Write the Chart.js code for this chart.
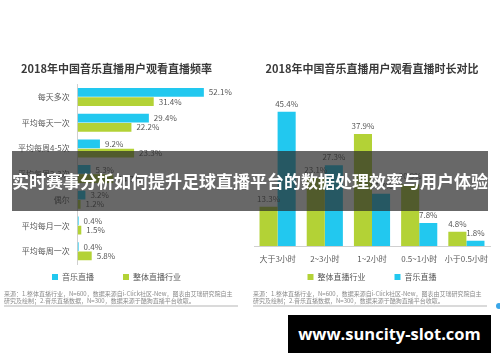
<!DOCTYPE html>
<html>
<head>
  <meta charset="UTF-8">
  <title>音乐直播</title>
  <script src="https://cdn.jsdelivr.net/npm/chart.js"></script>
  <style>
    body {
      margin: 0;
      width: 500px;
      height: 362px;
      background: #fff;
      font-family: 'Noto Sans CJK SC', sans-serif;
      position: relative;
      overflow: hidden;
    }
    .box { position: absolute; }
    .src {
      position: absolute;
      font-size: 6px;
      line-height: 6.5px;
      color: #8a8a8a;
      width: 234px;
      padding-bottom: 1px;
      border-bottom: 2px solid #dadada;
    }
    .banner {
      position: absolute;
      left: 12px; top: 151px;
      width: 476px; height: 60px;
      background: rgba(40, 40, 40, 0.7);
      color: #fff;
      font-weight: bold;
      font-size: 17px;
      line-height: 60px;
      text-align: center;
      white-space: nowrap;
    }
    .mark {
      position: absolute;
      left: 288px; top: 315px;
      width: 203px; height: 38px;
      background: #000;
      color: #fff;
      font-family: 'Open Sans', 'DejaVu Sans', sans-serif;
      font-weight: bold;
      font-size: 16.5px;
      line-height: 38px;
      text-align: center;
    }
    .dot {
      position: absolute;
      left: 496px; top: 303px;
      width: 6px; height: 6px;
      border-radius: 50%;
      background: #3aa6e8;
    }
  </style>
</head>
<body>
  <div class="box" style="left:0;top:50px;width:250px;height:243px;"><canvas id="left"></canvas></div>
  <div class="box" style="left:250px;top:50px;width:250px;height:243px;"><canvas id="right"></canvas></div>

  <div class="src" style="left:4px;top:291px;">来源：1.整体直播行业，N=600，数据来源自i-Click社区-New，图表由艾瑞研究院自主<br>研究及绘制；2.音乐直播数据，N=300，数据来源于酷狗直播平台收取。</div>
  <div class="src" style="left:253px;top:291px;">来源：1.整体直播行业，N=600，数据来源自i-Click社区-New，图表由艾瑞研究院自主<br>研究及绘制；2.音乐直播数据，N=300，数据来源于酷狗直播平台收取。</div>
  <div class="dot"></div>

  <div class="banner">实时赛事分析如何提升足球直播平台的数据处理效率与用户体验</div>
  <div class="mark">www.suncity-slot.com</div>

  <script>
    // 观看直播频率
    const freqLabels = ['每天多次', '平均每天一次', '平均每周4-5次', '平均每周2-3次', '偶尔', '平均每月一次', '平均每周一次'];
    const freqMusic = [52.1, 29.4, 9.2, 5.3, 3.2, 0.4, 0.4];
    const freqAll = [31.4, 22.2, 23.3, 14.7, 1.2, 1.5, 5.8];

    // 观看直播时长
    const timeLabels = ['大于3小时', '2~3小时', '1~2小时', '0.5~1小时', '小于0.5小时'];
    const timeAll = [13.3, 23.1, 37.9, 20.9, 4.8];
    const timeMusic = [45.4, 27.3, 17.7, 7.8, 1.8];

    const blue = '#22c8ef';
    const green = '#b3d236';
    const textGray = '#595959';
    const font = "'Noto Sans CJK SC', sans-serif";

    // draws the % value next to each bar
    const valueLabels = {
      id: 'valueLabels',
      afterDatasetsDraw(chart) {
        const c = chart.ctx;
        const horiz = chart.options.indexAxis === 'y';
        c.save();
        c.font = '8px ' + font;
        c.fillStyle = textGray;
        chart.data.datasets.forEach((ds, i) => {
          chart.getDatasetMeta(i).data.forEach((el, j) => {
            const txt = ds.data[j].toFixed(1) + '%';
            if (horiz) {
              c.textAlign = 'left';
              c.textBaseline = 'middle';
              c.fillText(txt, el.x + 5, el.y);
            } else {
              c.textAlign = 'center';
              c.textBaseline = 'bottom';
              c.fillText(txt, el.x, el.y - 4);
            }
          });
        });
        c.restore();
      }
    };

    const titleOpts = (text, below) => ({
      display: true,
      text: text,
      color: '#3a3a3a',
      font: { family: font, size: 11, weight: 'bold' },
      padding: { top: 12, bottom: below }
    });

    // wider gap between the two legend entries
    const legendOpts = {
      position: 'bottom',
      labels: {
        boxWidth: 6,
        boxHeight: 6,
        color: textGray,
        font: { family: font, size: 8 },
        padding: 5,
        generateLabels: (chart) =>
          Chart.defaults.plugins.legend.labels.generateLabels(chart).map((l, i) => {
            if (i === 0) l.text = l.text + '\u2003\u2003\u2003';
            return l;
          })
      }
    };

    new Chart(document.getElementById('left'), {
      type: 'bar',
      data: {
        labels: freqLabels,
        datasets: [
          { label: '音乐直播', data: freqMusic, backgroundColor: blue },
          { label: '整体直播行业', data: freqAll, backgroundColor: green }
        ]
      },
      options: {
        indexAxis: 'y',
        responsive: true,
        maintainAspectRatio: false,
        animation: false,
        categoryPercentage: 0.72,
        barPercentage: 0.95,
        layout: { padding: { left: 10, right: 27, bottom: 2 } },
        plugins: {
          title: titleOpts('2018年中国音乐直播用户观看直播频率', 9),
          legend: legendOpts,
          tooltip: { enabled: false }
        },
        scales: {
          x: {
            min: 0, max: 60,
            grid: { display: false },
            border: { display: false },
            ticks: { display: false },
            afterFit: (s) => { s.height = 4; }
          },
          y: {
            grid: { display: false, drawTicks: false },
            border: { color: '#d0d0d0' },
            ticks: { color: textGray, font: { family: font, size: 8 }, padding: 8 }
          }
        }
      },
      plugins: [valueLabels]
    });

    new Chart(document.getElementById('right'), {
      type: 'bar',
      data: {
        labels: timeLabels,
        datasets: [
          { label: '整体直播行业', data: timeAll, backgroundColor: green },
          { label: '音乐直播', data: timeMusic, backgroundColor: blue }
        ]
      },
      options: {
        responsive: true,
        maintainAspectRatio: false,
        animation: false,
        categoryPercentage: 0.766,
        barPercentage: 1,
        layout: { padding: { left: 4, right: 10, bottom: 2 } },
        plugins: {
          title: titleOpts('2018年中国音乐直播用户观看直播时长对比', 23),
          legend: legendOpts,
          tooltip: { enabled: false }
        },
        scales: {
          y: { display: false, min: 0, max: 50 },
          x: {
            grid: { display: false, drawTicks: false },
            border: { color: '#d0d0d0' },
            ticks: {
              color: textGray,
              font: { family: font, size: 8 },
              padding: 8,
              autoSkip: false,
              maxRotation: 0,
              minRotation: 0
            },
            afterFit: (s) => { s.height = 22; }
          }
        }
      },
      plugins: [valueLabels]
    });
  </script>
</body>
</html>
